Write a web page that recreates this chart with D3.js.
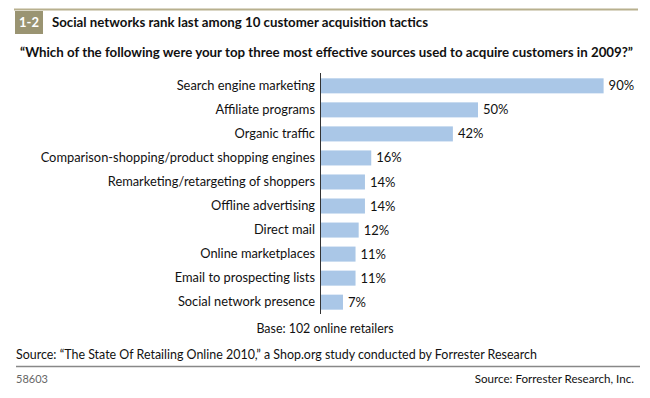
<!DOCTYPE html>
<html>
<head>
<meta charset="utf-8">
<script src="https://cdn.jsdelivr.net/npm/d3@7"></script>
<style>
  body { margin: 0; background: #fff; }
  svg { font-family: Lato, "Noto Sans", sans-serif; }
</style>
</head>
<body>
<svg id="chart" width="650" height="398"></svg>
<script>
// Data
var categories = [
    "Search engine marketing",
    "Affiliate programs",
    "Organic traffic",
    "Comparison-shopping/product shopping engines",
    "Remarketing/retargeting of shoppers",
    "Offline advertising",
    "Direct mail",
    "Online marketplaces",
    "Email to prospecting lists",
    "Social network presence"
];
var values = [90, 50, 42, 16, 14, 14, 12, 11, 11, 7];

var svg = d3.select("#chart");

// Header
svg.append("line")
    .attr("x1", 14).attr("x2", 638)
    .attr("y1", 9.5).attr("y2", 9.5)
    .attr("stroke", "#b8b08e").attr("stroke-width", 2);

svg.append("rect")
    .attr("x", 15).attr("y", 11)
    .attr("width", 28).attr("height", 23)
    .attr("fill", "#9a9472");

svg.append("text")
    .attr("x", 29).attr("y", 27)
    .attr("text-anchor", "middle")
    .attr("fill", "#fff")
    .attr("font-weight", "bold")
    .attr("font-size", 13)
    .text("1-2");

svg.append("text")
    .attr("x", 52).attr("y", 27)
    .attr("font-weight", "bold")
    .attr("font-size", 13)
    .attr("fill", "#111")
    .attr("textLength", 376)
    .attr("lengthAdjust", "spacingAndGlyphs")
    .text("Social networks rank last among 10 customer acquisition tactics");

svg.append("text")
    .attr("x", 20).attr("y", 57)
    .attr("font-weight", "bold")
    .attr("font-size", 13.5)
    .attr("fill", "#111")
    .attr("textLength", 613)
    .attr("lengthAdjust", "spacingAndGlyphs")
    .text("\u201CWhich of the following were your top three most effective sources used to acquire customers in 2009?\u201D");

// Scales
var x = d3.scaleLinear()
    .domain([0, 100])
    .range([321, 635]);

var y = d3.scaleBand()
    .domain(categories)
    .range([74, 314])
    .paddingInner(0.375)
    .paddingOuter(0.18);

// Bars
svg.append("g")
    .selectAll("rect")
    .data(values)
    .enter().append("rect")
    .attr("x", x(0))
    .attr("y", function(d, i) { return y(categories[i]); })
    .attr("width", function(d) { return x(d) - x(0); })
    .attr("height", y.bandwidth())
    .attr("fill", "#aac7e7");

// Value labels
svg.append("g")
    .selectAll("text")
    .data(values)
    .enter().append("text")
    .attr("x", function(d) { return x(d) + 5; })
    .attr("y", function(d, i) { return y(categories[i]) + y.bandwidth() / 2; })
    .attr("dy", "0.35em")
    .attr("font-size", 13)
    .attr("fill", "#111")
    .text(function(d) { return d + "%"; });

// Category axis
var yAxis = d3.axisLeft(y).tickSize(0).tickPadding(5);
var axisG = svg.append("g")
    .attr("transform", "translate(320,0)")
    .call(yAxis);
axisG.select(".domain")
    .attr("d", "M0.5,73V314")
    .attr("stroke", "#333");
axisG.selectAll("text")
    .attr("font-family", "Lato, 'Noto Sans', sans-serif")
    .attr("font-size", 12.85)
    .attr("fill", "#111");

// Footer
svg.append("text")
    .attr("x", 325).attr("y", 333)
    .attr("text-anchor", "middle")
    .attr("font-size", 12.4)
    .attr("fill", "#111")
    .text("Base: 102 online retailers");

svg.append("text")
    .attr("x", 16).attr("y", 359)
    .attr("font-size", 12.45)
    .attr("fill", "#111")
    .text("Source: \u201CThe State Of Retailing Online 2010,\u201D a Shop.org study conducted by Forrester Research");

svg.append("line")
    .attr("x1", 16).attr("x2", 640)
    .attr("y1", 366.5).attr("y2", 366.5)
    .attr("stroke", "#888").attr("stroke-width", 1.5);

svg.append("text")
    .attr("x", 16).attr("y", 383)
    .attr("font-size", 11)
    .attr("fill", "#666")
    .text("58603");

svg.append("text")
    .attr("x", 634).attr("y", 383)
    .attr("text-anchor", "end")
    .attr("font-size", 11.6)
    .attr("fill", "#111")
    .text("Source: Forrester Research, Inc.");
</script>
</body>
</html>
